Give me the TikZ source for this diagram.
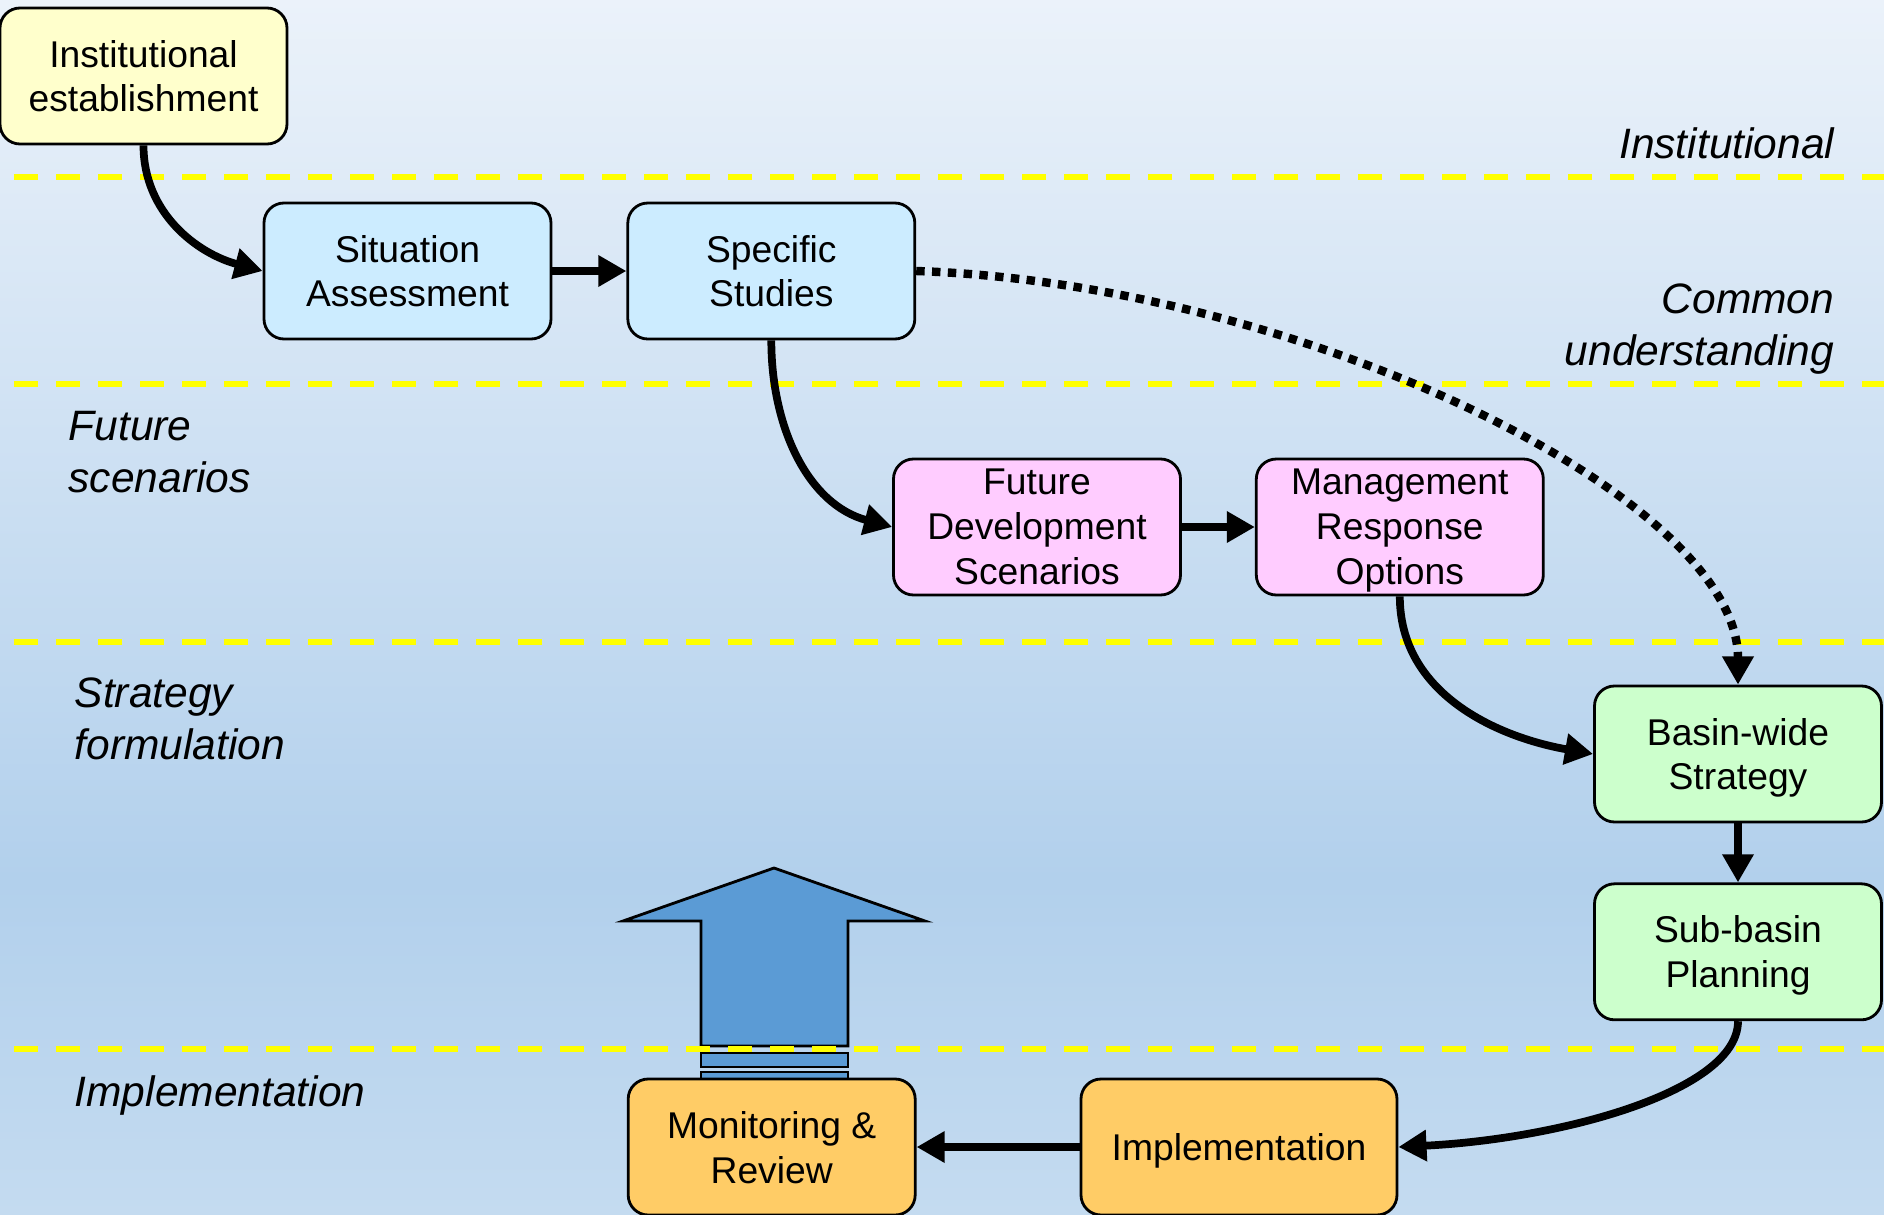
\documentclass[tikz,border=0pt]{standalone}
\usepackage{fontspec}
\setmainfont{Liberation Sans}
\usepackage{xcolor}
\usetikzlibrary{arrows.meta, positioning}

\definecolor{instfill}{HTML}{FFFFCC}
\definecolor{commonfill}{HTML}{CCECFF}
\definecolor{futurefill}{HTML}{FFCCFF}
\definecolor{stratfill}{HTML}{CCFFCC}
\definecolor{implfill}{HTML}{FFCC66}
\definecolor{bigarrow}{HTML}{5B9BD5}
\definecolor{bandline}{HTML}{FFFF00}
\definecolor{bgtop}{HTML}{EBF2FA}
\definecolor{bgmid}{HTML}{B2D0EC}
\definecolor{bgbot}{HTML}{C4DBF0}

\newcommand{\blockfont}{\fontsize{10.6}{12.8}\selectfont}
\newcommand{\bandfont}{\fontsize{12.1}{14.7}\selectfont\itshape}

\pgfdeclareverticalshading{bgshade}{100bp}{color(0bp)=(bgbot); color(25bp)=(bgbot); color(38.8bp)=(bgmid); color(75bp)=(bgtop); color(100bp)=(bgtop)}

\begin{document}
\begin{tikzpicture}[node distance=0.74cm, arrow/.style={-{Triangle[length=8pt, width=8.5pt]}, line width=2.2pt}]
\tikzstyle{block} = [rectangle, draw, line width=0.8pt, rounded corners=0.2cm, minimum width=2.87cm, minimum height=1.36cm, inner sep=1pt, text depth=0pt, align=center, font=\blockfont]
\tikzstyle{band} = [inner sep=0pt, font=\bandfont]
\tikzstyle{divider} = [draw=bandline, line width=1.7pt, dash pattern=on 0.24cm off 0.18cm]
% background
\useasboundingbox (0,0) rectangle (18.84,-12.15);
\shade[shading=bgshade] (0,0) rectangle (18.84,-12.15);
% feedback arrow
\draw[fill=bigarrow, line width=0.8pt] (7.01,-10.46) -- (7.01,-9.21) -- (6.23,-9.21) -- (7.74,-8.68) -- (9.25,-9.21) -- (8.48,-9.21) -- (8.48,-10.46) -- cycle;
\draw[fill=bigarrow, line width=0.8pt] (7.01,-10.53) rectangle (8.48,-10.67);
\draw[fill=bigarrow, line width=0.8pt] (7.01,-10.72) rectangle (8.48,-10.80);
% stage dividers
\foreach \y in {1.77,3.84,6.42,10.49}
  \draw[divider] (0.14,-\y) -- (18.84,-\y);
\node[band, anchor=east, align=right] (lblinst) at (18.35,-1.43) {Institutional};
\node[band, anchor=east, align=right] (lblcommon) at (18.35,-3.29) {Common\\understanding};
\node[band, anchor=west, align=left] (lblfuture) at (0.68,-4.52) {Future\\scenarios};
\node[band, anchor=west, align=left] (lblstrat) at (0.74,-7.19) {Strategy\\formulation};
\node[band, anchor=west] (lblimpl) at (0.74,-10.95) {Implementation};
% steps
\node[block, fill=instfill] (inst) at (1.435,-0.76) {Institutional\\establishment};
\node[block, fill=commonfill] (sit) at (4.075,-2.71) {Situation\\Assessment};
\node[block, fill=commonfill, right=of sit] (spec) {Specific\\Studies};
\node[block, fill=futurefill] (fds) at (10.37,-5.27) {Future\\Development\\Scenarios};
\node[block, fill=futurefill, right=0.73cm of fds] (mro) {Management\\Response\\Options};
\node[block, fill=stratfill] (basin) at (17.38,-7.54) {Basin-wide\\Strategy};
\node[block, fill=stratfill, below=0.59cm of basin] (sub) {Sub-basin\\Planning};
\node[block, fill=implfill, minimum width=3.16cm] (impl) at (12.39,-11.47) {Implementation};
\node[block, fill=implfill, left=1.63cm of impl] (mon) {Monitoring \&\\Review};
\draw[arrow] (inst.south) to[out=-90, in=165] (sit.west);
\draw[arrow] (sit) -- (spec);
\draw[arrow] (spec.south) to[out=-90, in=165] (fds.west);
\draw[arrow] (fds) -- (mro);
\draw[arrow] (mro.south) to[out=-90, in=170] (basin.west);
\draw[arrow, line width=2.4pt, dash pattern=on 2.4pt off 2.1pt] (spec.east) .. controls +(3.86,-0.13) and +(0,1.86) .. (basin.north);
\draw[arrow] (basin) -- (sub);
\draw[arrow] (sub.south) .. controls +(0,-0.7) and +(1.62,0.08) .. (impl.east);
\draw[arrow] (impl) -- (mon);
\end{tikzpicture}
\end{document}
